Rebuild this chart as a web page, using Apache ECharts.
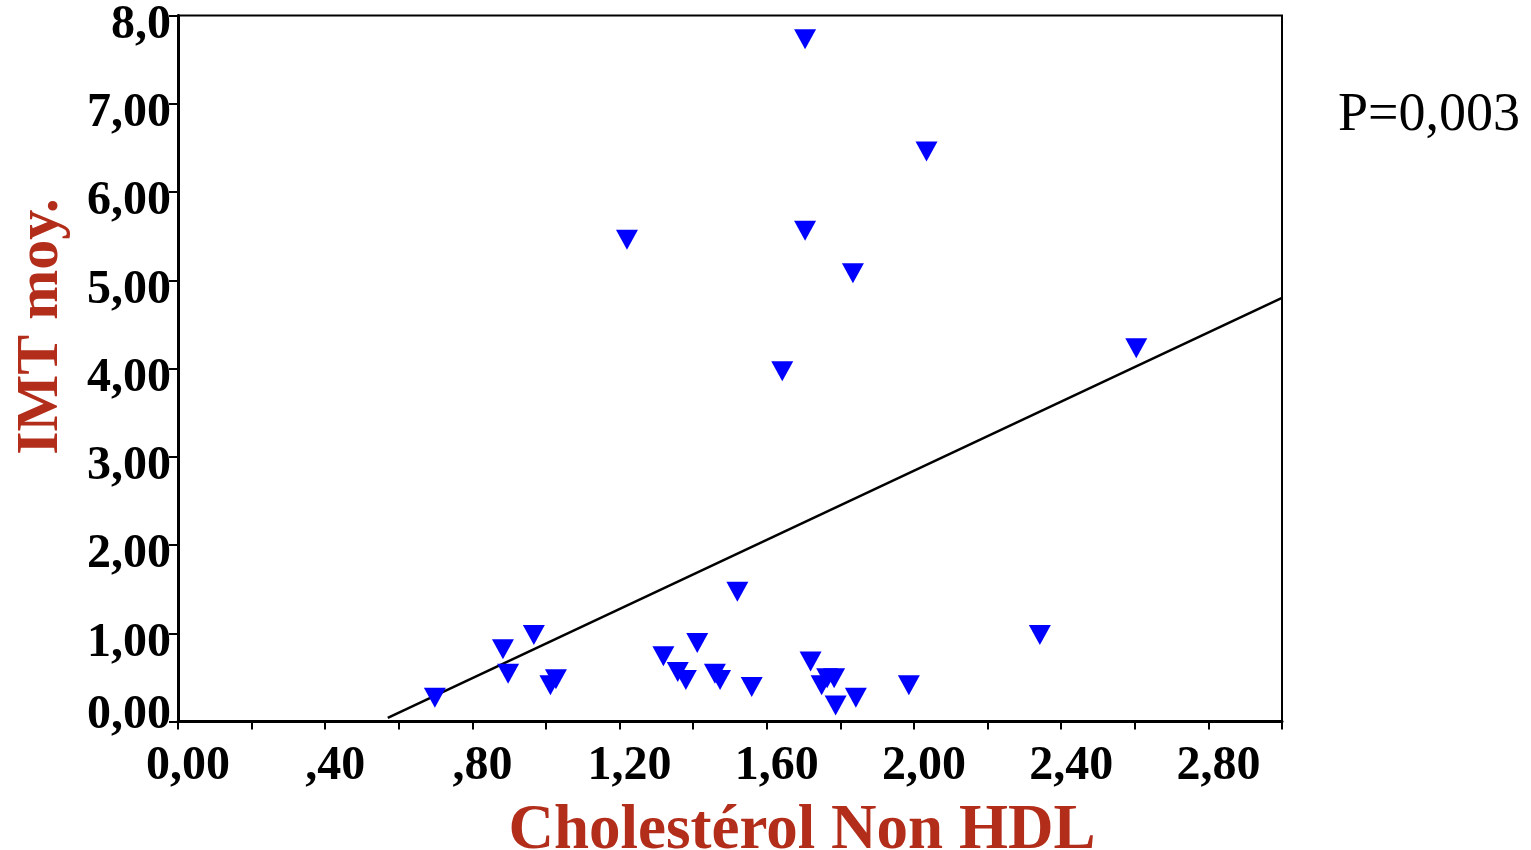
<!DOCTYPE html>
<html lang="fr">
<head>
    <meta charset="UTF-8">
    <title>IMT moy. / Cholestérol Non HDL</title>
    <style>
        html,
        body {
            margin: 0;
            padding: 0;
            width: 100%;
            height: 100%;
            background: #fff;
        }

        #canvas {
            width: 1531px;
            height: 850px;
        }
    </style>
</head>
<body>
<div id="canvas"></div>
<script src="https://cdn.jsdelivr.net/npm/echarts@6.0.0/dist/echarts.min.js"></script>
<script>
    // values
    const cholNonHdl = [1.704, 2.034, 1.220, 1.704, 1.834, 1.642, 2.604, 2.342, 1.986,
        0.698, 0.883, 0.967, 0.897, 1.012, 1.027, 1.319, 1.411, 1.358, 1.380, 1.459,
        1.473, 1.520, 1.559, 1.719, 1.749, 1.764, 1.783, 1.787, 1.842]
    const imtMoy = [7.73, 6.46, 5.46, 5.56, 5.08, 3.97, 4.23, 0.98, 0.41,
        0.27, 0.82, 0.98, 0.54, 0.41, 0.48, 0.74, 0.89, 0.56, 0.47, 0.54,
        0.47, 1.47, 0.39, 0.68, 0.41, 0.49, 0.49, 0.18, 0.27]

    // regression line end points (clipped at the frame)
    const fitX = [0.57, 3.0]
    const fitY = [0.04, 4.8]

    const xTickLabels = ['0,00', ',40', ',80', '1,20', '1,60', '2,00', '2,40', '2,80']
    const yTickLabels = ['0,00', '1,00', '2,00', '3,00', '4,00', '5,00', '6,00', '7,00', '8,0']

    const pText = 'P=0,003'

    const font = 'Liberation Serif'
    const red = '#b32d1b'

    const points = cholNonHdl.map((x, i) => [x, imtMoy[i]])
    const fit = fitX.map((x, i) => [x, fitY[i]])

    const chart = echarts.init(document.getElementById('canvas'))

    chart.setOption({
        animation: false,
        backgroundColor: '#fff',
        grid: {
            left: 178,
            top: 15.5,
            right: 249,
            bottom: 128.5,
            outerBoundsMode: 'none',
            containLabel: false,
            show: true,
            borderColor: '#000',
            borderWidth: 2
        },
        xAxis: {
            type: 'value',
            min: 0,
            max: 3,
            interval: 0.2,
            name: 'Cholestérol Non HDL',
            nameLocation: 'middle',
            nameGap: 79,
            nameTextStyle: {
                fontFamily: font,
                fontWeight: 'bold',
                fontSize: 63,
                color: red,
                padding: [0, 0, 0, 144]
            },
            axisLine: { lineStyle: { color: '#000', width: 3 } },
            axisTick: { length: 8, lineStyle: { color: '#000', width: 2 } },
            splitLine: { show: false },
            axisLabel: {
                margin: 21,
                fontFamily: font,
                fontWeight: 'bold',
                fontSize: 48,
                color: '#000',
                padding: [0, 0, 0, 20],
                formatter: v => {
                    const k = Math.round(v * 5)
                    return k % 2 === 0 && xTickLabels[k / 2] ? xTickLabels[k / 2] : ''
                }
            }
        },
        yAxis: {
            type: 'value',
            min: 0,
            max: 8,
            interval: 1,
            name: 'IMT moy.',
            nameLocation: 'middle',
            nameGap: 107,
            nameTextStyle: {
                fontFamily: font,
                fontWeight: 'bold',
                fontSize: 60,
                color: red,
                padding: [0, 0, 0, 84]
            },
            axisLine: { lineStyle: { color: '#000', width: 3 } },
            axisTick: { length: 9, lineStyle: { color: '#000', width: 2 } },
            splitLine: { show: false },
            axisLabel: {
                margin: 7,
                fontFamily: font,
                fontWeight: 'bold',
                fontSize: 48,
                color: '#000',
                verticalAlign: 'middle',
                formatter: v => {
                    const i = Math.round(v)
                    return (i === 0 ? '{z|' : '{n|') + yTickLabels[i] + '}'
                },
                rich: {
                    n: { padding: [20, 0, 0, 0] },
                    z: { padding: [0, 0, 12, 0] }
                }
            }
        },
        graphic: [{
            type: 'text',
            left: 1338,
            top: 89,
            style: {
                text: pText,
                font: '54px "Liberation Serif"',
                fill: '#000'
            }
        }],
        series: [
            {
                type: 'line',
                data: fit,
                symbol: 'none',
                lineStyle: { color: '#000', width: 2.5 },
                z: 3
            },
            {
                type: 'scatter',
                data: points,
                symbol: 'triangle',
                symbolRotate: 180,
                symbolSize: [22, 20],
                itemStyle: { color: '#0000ff', opacity: 1 },
                z: 4
            }
        ]
    })
</script>
</body>
</html>
